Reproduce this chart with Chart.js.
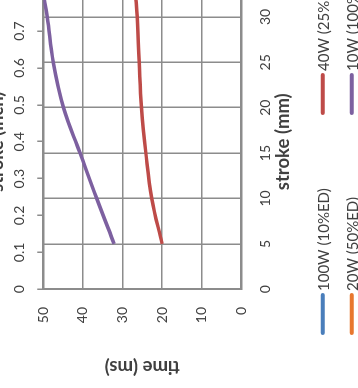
<!DOCTYPE html>
<html>
<head>
<meta charset="utf-8">
<script src="https://cdn.jsdelivr.net/npm/chart.js@4/dist/chart.umd.min.js"></script>
<style>
  html, body { margin: 0; padding: 0; background: #fff; overflow: hidden; }
  body { width: 358px; height: 388px; position: relative; }
  /* chart is laid out upright, then turned a quarter left like the reference */
  #wrap {
    position: absolute; left: 0; top: 0;
    width: 400px; height: 390px;
    transform-origin: 0 0;
    transform: translate(-20px, 388px) rotate(-90deg);
  }
</style>
</head>
<body>
<div id="wrap"><canvas id="chart" width="400" height="390"></canvas></div>
<script>
'use strict';

// ------------------------------
// data
const strokeMm     = [5, 10, 15, 20, 25, 30, 32.5];
const time100W     = [];                                         // not visible in the crop
const time20W      = [];                                         // not visible in the crop
const time40W      = [20.0, 22.6, 24.1, 25.2, 25.8, 26.3, 26.7];
const time10W      = [32.1, 36.5, 40.7, 44.9, 47.5, 49.0, 50.0];
const seriesLabels = ['100W (10%ED)', '20W (50%ED)', '40W (25%ED)', '10W (100%ED)'];
const seriesColors = ['#4A7EBB', '#E8772E', '#BE4B48', '#7D60A0'];

// tick values
const timeTicks = [0, 10, 20, 30, 40, 50];
const mmTicks   = [0, 5, 10, 15, 20, 25, 30];
const inchTicks = [0, 0.1, 0.2, 0.3, 0.4, 0.5, 0.6, 0.7];
const mmMax     = 32.5;
const inchMax   = 0.8;

// ------------------------------
const FONT  = 'Lato, "Open Sans", sans-serif';
const GRID  = '#8c8c8c';
const TEXT  = '#404040';

const toPoints = ys => ys.map((y, i) => ({ x: strokeMm[i], y }));
const allSeries = [time100W, time20W, time40W, time10W];
const fixTicks = list => s => { s.ticks = list.map(v => ({ value: v })); };

const datasets = allSeries.map((ys, i) => ({
  label: seriesLabels[i],
  data: toPoints(ys),
  borderColor: seriesColors[i],
  backgroundColor: seriesColors[i],
  borderWidth: 3.5,
  pointRadius: 0,
  tension: 0.4,
  fill: false
}));

// legend drawn by hand: two columns, column-major, Excel style
const legendPlugin = {
  id: 'colLegend',
  afterDraw(chart) {
    const ctx = chart.ctx;
    const colX = [53, 273], rowY = [342.7, 371.7];
    ctx.save();
    ctx.font = '15px ' + FONT;
    ctx.textBaseline = 'middle';
    ctx.textAlign = 'left';
    chart.data.datasets.forEach((ds, i) => {
      const x = colX[Math.floor(i / 2)], y = rowY[i % 2];
      ctx.strokeStyle = ds.borderColor;
      ctx.lineWidth = 4;
      ctx.lineCap = 'round';
      ctx.beginPath();
      ctx.moveTo(x + 2, y);
      ctx.lineTo(x + 40, y);
      ctx.stroke();
      ctx.fillStyle = TEXT;
      ctx.fillText(ds.label, x + 44, y + 1);
    });
    ctx.restore();
  }
};

const tickFont  = { family: FONT, size: 14 };
const titleFont = { family: FONT, size: 18.5, weight: 'bold' };

new Chart(document.getElementById('chart'), {
  type: 'line',
  data: { datasets },
  plugins: [legendPlugin],
  options: {
    responsive: false,
    animation: false,
    layout: { padding: { top: 0, left: 0, right: 6.2, bottom: 68.7 } },
    plugins: { legend: { display: false }, tooltip: { enabled: false } },
    scales: {
      x: {
        type: 'linear', position: 'bottom', min: 0, max: mmMax,
        afterBuildTicks: fixTicks(mmTicks),
        afterFit: s => { s.height = 60; },
        ticks: { padding: 15.3, color: TEXT, font: tickFont, maxRotation: 0, autoSkip: false },
        grid: { color: GRID, lineWidth: 1.5, drawTicks: false },
        border: { color: GRID, width: 2 },
        title: { display: true, text: 'stroke (mm)', color: TEXT, font: titleFont, padding: { top: 0, bottom: 7.2 } }
      },
      x2: {
        type: 'linear', position: 'top', min: 0, max: inchMax,
        afterBuildTicks: fixTicks(inchTicks),
        afterFit: s => { s.height = 63.3; },
        ticks: {
          padding: 9, color: TEXT, font: tickFont, maxRotation: 0, autoSkip: false,
          callback: v => v === 0 ? '0' : v.toFixed(1)
        },
        grid: { drawOnChartArea: false, color: GRID, tickLength: 6, lineWidth: 1.5 },
        border: { color: GRID, width: 2 },
        title: { display: true, text: 'stroke (inch)', color: TEXT, font: titleFont, padding: { top: 5.9, bottom: 0 } }
      },
      y: {
        type: 'linear', position: 'left',
        min: timeTicks[0], max: timeTicks[timeTicks.length - 1],
        afterBuildTicks: fixTicks(timeTicks),
        afterFit: s => { s.width = 98.7; },
        ticks: { padding: 17.7, color: TEXT, font: tickFont, autoSkip: false },
        grid: { color: GRID, lineWidth: 1.5, drawTicks: false },
        border: { color: GRID, width: 2 },
        title: { display: true, text: 'time (ms)', color: TEXT, font: titleFont, padding: { top: 10.2, bottom: 0 } }
      }
    }
  }
});
</script>
</body>
</html>
